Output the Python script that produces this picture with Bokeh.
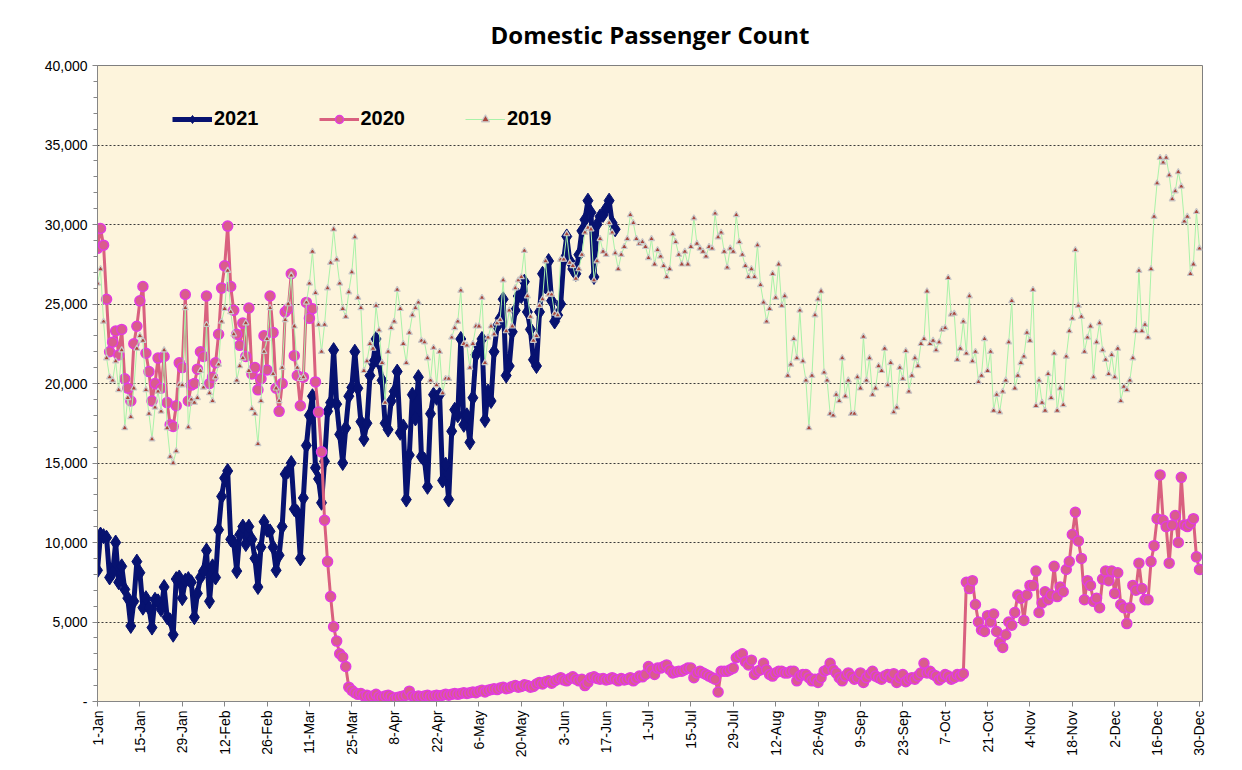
import math
from bokeh.plotting import figure
from bokeh.models import FixedTicker, Range1d, Legend, LegendItem
from bokeh.embed import file_html
from bokeh.resources import INLINE

# ---------------- data (thousands of passengers per day) ----------------
title_text = "Domestic Passenger Count"

tick_days = [0, 14, 28, 42, 56, 70, 84, 98, 112, 126, 140, 154, 168, 182,
             196, 210, 224, 238, 252, 266, 280, 294, 308, 322, 336, 350, 364]
tick_labels = ["1-Jan", "15-Jan", "29-Jan", "12-Feb", "26-Feb", "11-Mar", "25-Mar",
               "8-Apr", "22-Apr", "6-May", "20-May", "3-Jun", "17-Jun", "1-Jul",
               "15-Jul", "29-Jul", "12-Aug", "26-Aug", "9-Sep", "23-Sep", "7-Oct",
               "21-Oct", "4-Nov", "18-Nov", "2-Dec", "16-Dec", "30-Dec"]

y_ticks = [0, 5000, 10000, 15000, 20000, 25000, 30000, 35000, 40000]
y_labels = ["-", "5,000", "10,000", "15,000", "20,000", "25,000", "30,000", "35,000", "40,000"]

pax_2021_k = [
    8.25, 10.5, 10.4, 10.3, 7.8, 8.1, 10.0, 7.5, 8.5, 7.05,
    6.5, 4.75, 6.3, 8.8, 8.1, 5.9, 6.5, 5.9, 4.65, 6.4,
    6.3, 5.8, 7.2, 5.3, 5.1, 4.2, 7.7, 7.8, 6.5, 7.6,
    7.7, 7.5, 5.3, 6.8, 7.8, 8.2, 9.5, 6.3, 8.5, 7.8,
    10.8, 12.9, 14.05, 14.5, 10.2, 10.0, 8.2, 10.5, 11.0, 9.9,
    11.0, 10.2, 9.0, 7.2, 9.7, 11.3, 10.8, 10.7, 9.7, 8.25,
    9.2, 11.0, 14.3, 14.5, 15.0, 12.1, 11.9, 9.0, 12.8, 16.1,
    18.0, 19.2, 14.7, 14.0, 12.5, 15.1, 18.25, 18.8, 22.1, 18.7,
    16.8, 15.0, 17.2, 19.2, 19.75, 22.0, 19.7, 17.6, 16.5, 17.5,
    20.5, 21.3, 22.8, 21.3, 20.2, 17.5, 17.1, 18.9, 19.5, 20.75,
    16.9, 17.3, 12.7, 15.5, 19.3, 17.8, 20.4, 15.4, 15.2, 13.5,
    18.1, 19.3, 19.1, 19.3, 13.9, 14.9, 12.7, 17.0, 18.35, 18.0,
    22.8, 17.4, 18.0, 16.3, 19.1, 21.8, 22.3, 22.8, 17.7, 19.5,
    18.9, 22.0, 23.6, 24.1, 25.3, 20.5, 21.1, 23.25, 24.6, 25.5,
    25.5, 26.4, 24.5, 23.4, 21.5, 21.1, 24.5, 26.9, 26.1, 27.7,
    25.2, 23.9, 24.3, 25.0, 27.8, 29.25, 27.7, 27.2, 26.9, 28.1,
    29.6, 30.3, 31.5, 30.75, 26.7, 30.0, 30.5, 30.6, 31.0, 31.5,
    30.1, 29.7,
]

pax_2020_k = [
    28.5, 29.75, 28.7, 25.3, 22.0, 22.6, 23.3, 21.8, 23.4, 20.3,
    19.7, 18.9, 22.5, 23.6, 25.2, 26.1, 21.9, 20.75, 18.9, 20.0,
    21.6, 19.7, 21.7, 18.8, 17.4, 17.3, 18.6, 21.3, 21.0, 25.6,
    18.9, 19.9, 20.0, 20.9, 22.0, 21.7, 25.5, 20.0, 20.4, 21.3,
    23.1, 26.0, 27.4, 29.9, 26.1, 24.6, 23.1, 22.4, 23.8, 21.7,
    24.75, 20.6, 21.0, 19.6, 20.3, 23.0, 20.85, 25.5, 23.2, 19.7,
    18.25, 20.0, 24.5, 24.7, 26.9, 21.75, 20.5, 18.6, 20.4, 25.1,
    24.1, 24.7, 20.1, 18.2, 15.7, 11.4, 8.8, 6.6, 4.7, 3.8,
    3.0, 2.8, 2.2, 0.9,
    0.70, 0.55, 0.45, 0.50, 0.35, 0.40, 0.30, 0.35, 0.45, 0.30,
    0.25, 0.35, 0.40, 0.30, 0.15, 0.25, 0.30, 0.35, 0.40, 0.65,
    0.35, 0.30, 0.35, 0.30, 0.35, 0.40, 0.30, 0.35, 0.40, 0.35,
    0.40, 0.45, 0.40, 0.45, 0.50, 0.45, 0.50, 0.55, 0.50,
    0.55, 0.60, 0.55, 0.65, 0.70, 0.60, 0.70, 0.75, 0.80, 0.75,
    0.85, 0.90, 0.80, 0.85, 0.95, 1.00, 0.90, 0.95, 1.05, 1.00,
    0.90, 0.95, 1.10, 1.20, 1.10, 1.25, 1.30, 1.15, 1.30, 1.40,
    1.50, 1.35, 1.30, 1.45, 1.55, 1.40, 1.30, 1.40, 1.00, 1.20,
    1.50, 1.55, 1.45, 1.40, 1.45, 1.35, 1.40, 1.50, 1.40, 1.30,
    1.45, 1.35, 1.40, 1.50, 1.30, 1.45, 1.60, 1.55, 1.70, 2.20,
    2.00, 1.70, 2.10,
    2.1, 2.2, 2.3, 2.0, 1.8, 1.85, 1.9, 1.9, 2.0, 2.1,
    2.1, 1.5, 1.8, 1.9, 1.8, 1.7, 1.6, 1.5, 1.4, 0.6,
    1.9, 1.9, 1.9, 2.0, 2.1, 2.75, 2.9, 3.0, 2.5, 2.3,
    2.6, 1.7, 1.9, 2.0, 2.4, 2.0, 1.7, 1.6, 1.8, 1.9,
    1.9, 1.8, 1.8, 1.9, 1.9, 1.3, 1.6, 1.7, 1.7, 1.5,
    1.3, 1.4, 1.2, 1.5, 1.9, 2.0, 2.4, 2.0, 1.8, 1.5,
    1.3, 1.6, 1.8, 1.6, 1.4,
    1.5, 1.8, 1.2, 1.5, 1.7, 1.9, 1.6, 1.5, 1.4, 1.6,
    1.7, 1.5, 1.75, 1.2, 1.5, 1.7, 1.25, 1.4, 1.5, 1.4,
    1.6, 1.8, 2.4, 1.8, 1.9, 1.7, 1.6, 1.35, 1.5, 1.7,
    1.6, 1.4, 1.5, 1.7, 1.6, 1.75,
    7.5, 7.1, 7.6, 6.1, 5.0, 4.5, 4.4, 5.4, 5.0, 5.5,
    4.4, 3.7, 3.4, 4.2, 5.0, 4.8, 5.6, 6.7, 6.5, 5.1,
    6.7, 7.3, 7.3, 8.2, 5.6, 6.2, 6.9, 6.4, 6.7, 8.5,
    6.6, 7.2, 6.9, 8.3, 8.8, 10.5, 11.9, 10.1, 9.0, 6.4,
    7.6, 7.3, 6.3, 6.5, 5.9, 7.7, 8.2, 7.6, 8.2, 6.8,
    8.1, 6.1, 5.9, 4.9, 5.9, 7.3, 7.0, 8.7, 7.1, 6.4,
    6.4, 8.8, 9.8, 11.5, 14.25, 11.4, 11.0, 8.7, 11.1, 11.7,
    10.0, 14.1, 11.1, 11.0, 11.2, 11.5, 9.1, 8.3,
]

pax_2019_k = [
    26.3, 27.2, 23.9, 21.6, 20.4, 20.2, 21.4, 19.6, 22.1, 17.2,
    19.1, 17.9, 19.7, 22.2, 23.0, 22.7, 19.6, 18.1, 16.5, 18.5,
    19.5, 18.25, 22.1, 17.2, 15.4, 15.0, 15.75, 19.9, 19.9, 24.75,
    17.25, 19.0, 18.8, 19.1, 20.8, 19.75, 23.7, 19.4, 18.9, 20.4,
    21.2, 23.9, 24.7, 27.1, 24.5, 23.1, 20.2, 21.1, 21.6, 23.8,
    20.8, 18.4, 18.1, 16.2, 18.9, 22.0, 22.8, 24.75, 20.6, 19.7,
    18.9, 21.0, 24.0, 25.0, 26.8, 23.6, 21.0, 20.3, 20.4, 25.1,
    26.3, 28.3, 25.7, 23.7, 22.0, 23.7, 26.0, 27.6, 29.7, 27.8,
    26.3, 24.7, 24.2, 25.75, 27.0, 29.2, 25.4, 24.75, 20.8, 21.4,
    22.5, 22.2, 24.9, 23.35, 21.3, 18.8, 22.0, 23.5, 23.9, 25.9,
    24.7, 22.5, 21.3, 23.2, 24.3, 24.75, 25.1, 22.7, 22.6, 21.6,
    20.2, 22.25, 19.9, 22.0, 19.4, 20.3, 20.3, 22.9, 23.5, 23.9,
    25.85, 22.5, 22.4, 21.0, 22.5, 23.6, 23.6, 25.4, 21.3, 22.9,
    23.6, 23.1, 23.8, 24.0, 26.5, 23.3, 24.6, 23.6, 26.0, 26.5,
    26.7, 28.35, 25.5, 24.2, 22.7, 23.0, 24.9, 25.3, 27.7, 25.6,
    25.6, 24.4, 24.3, 27.8, 27.8, 29.4, 27.6, 27.4, 26.6, 27.2,
    28.1, 29.5, 29.8, 29.7, 26.5, 27.7, 29.1, 28.3, 28.1, 30.1,
    29.5, 28.2, 27.2, 28.1, 28.6, 29.1, 30.6, 30.1, 29.1, 28.8,
    28.9, 28.6, 27.9, 29.1, 27.5, 28.4, 28.0, 27.4, 26.7, 27.2,
    29.4, 28.9, 28.1, 27.5, 28.3, 27.5, 28.6, 30.4, 28.8, 28.5,
    28.3, 28.0, 28.6, 28.5, 30.7, 29.2, 29.5, 28.3, 27.3, 28.5,
    28.3, 30.6, 28.9, 28.1, 27.4, 26.7, 27.2, 26.7, 28.7, 26.2,
    25.1, 23.9, 24.7, 26.9, 25.4, 27.5, 24.9, 25.5, 20.5, 21.2,
    22.8, 21.6, 24.6, 21.4, 20.2, 17.2, 20.5, 24.3, 25.3, 25.8,
    20.7, 20.2, 18.1, 18.0, 19.3, 18.9, 21.6, 19.2, 20.2, 18.1,
    18.1, 20.4, 19.7, 22.95, 20.2, 21.6, 19.3, 19.7, 21.1, 20.8,
    22.2, 19.9, 21.3, 18.2, 18.5, 21.0, 20.3, 22.05, 19.5, 20.5,
    21.6, 21.1, 22.5, 22.8, 25.8, 22.5, 22.7, 22.1, 22.6, 23.4,
    23.5, 26.65, 24.35, 24.4, 21.5, 22.2, 23.9, 21.9, 25.5, 21.4,
    22.0, 20.1, 20.5, 22.8, 20.8, 22.0, 18.3, 19.3, 18.2, 19.5,
    20.2, 22.6, 25.2, 19.7, 20.5, 21.3, 21.7, 23.2, 22.7, 25.9,
    18.6, 20.2, 18.8, 18.3, 20.6, 19.1, 21.9, 18.3, 19.7, 18.65,
    21.7, 23.3, 24.1, 28.4, 24.9, 24.2, 22.0, 22.9, 23.6, 20.4,
    22.6, 23.8, 22.1, 21.5, 20.6, 21.8, 20.4, 22.2, 18.9, 19.8,
    19.6, 20.2, 21.6, 23.3, 27.1, 23.3, 23.7, 22.9, 27.2, 30.5,
    32.6, 34.2, 33.9, 34.2, 33.1, 31.6, 32.1, 33.3, 32.4, 30.2,
    30.5, 26.9, 27.5, 30.8, 28.5,
]

# ---------------- figure ----------------
FONT = "Liberation Sans"

p = figure(width=1226, height=760, output_backend="svg", toolbar_location=None,
           x_range=Range1d(0, 365), y_range=Range1d(0, 40000),
           min_border_left=97, min_border_right=24, min_border_top=65,
           min_border_bottom=55)

p.background_fill_color = "#FDF4DC"
p.border_fill_color = "white"
p.outline_line_color = "#7F7F7F"
p.outline_line_width = 1

p.title.text = title_text
p.title.align = "center"
p.title.text_font = "Open Sans"
p.title.text_font_size = "24px"
p.title.text_font_style = "bold"
p.title.text_color = "black"
p.title.standoff = 30
p.title.offset = -9

# grid
p.xgrid.grid_line_color = None
p.ygrid.grid_line_color = "#3A3A3A"
p.ygrid.grid_line_dash = "2 2"
p.ygrid.grid_line_width = 1

# axes
xa = p.xaxis[0]
xa.ticker = FixedTicker(ticks=tick_days)
xa.major_label_overrides = {d: lab for d, lab in zip(tick_days, tick_labels)}
xa.major_label_orientation = math.pi / 2
xa.major_label_text_font = FONT
xa.major_label_text_font_size = "14px"
xa.major_label_text_color = "black"
xa.major_tick_out = 5
xa.major_tick_in = 0
xa.minor_tick_line_color = None
xa.axis_line_color = "#868686"
xa.major_tick_line_color = "#868686"
xa.major_label_standoff = 4

ya = p.yaxis[0]
ya.ticker = FixedTicker(ticks=y_ticks, minor_ticks=list(range(0, 40001, 1000)))
ya.major_label_overrides = {t: lab for t, lab in zip(y_ticks, y_labels)}
ya.major_label_text_font = FONT
ya.major_label_text_font_size = "14px"
ya.major_label_text_color = "black"
ya.major_tick_out = 5
ya.major_tick_in = 0
ya.minor_tick_out = 4
ya.minor_tick_in = 0
ya.axis_line_color = "#868686"
ya.major_tick_line_color = "#868686"
ya.minor_tick_line_color = "#868686"
ya.major_label_standoff = 5

# series
y21 = [v * 1000 for v in pax_2021_k]
y20 = [v * 1000 for v in pax_2020_k]
y19 = [v * 1000 for v in pax_2019_k]
x21 = list(range(len(y21)))
x20 = list(range(len(y20)))
x19 = list(range(len(y19)))

l21 = p.line(x21, y21, line_color="#071270", line_width=5)
s21 = p.scatter(x21, y21, marker="diamond", size=15, fill_color="#071270",
                line_color="#071270", line_width=1)

l20 = p.line(x20, y20, line_color="#D9607F", line_width=3)
s20 = p.scatter(x20, y20, marker="circle", size=10, fill_color="#DA5C8C",
                line_color="#E23CE0", line_width=1.5)

l19 = p.line(x19, y19, line_color="#A9F2A9", line_width=1)
s19 = p.scatter(x19, y19, marker="triangle", size=6, fill_color="#A8463C",
                line_color="#C9C9C9", line_width=1.2)

legend = Legend(items=[LegendItem(label="2021", renderers=[l21, s21]),
                       LegendItem(label="2020", renderers=[l20, s20]),
                       LegendItem(label="2019", renderers=[l19, s19])],
                orientation="horizontal", location=(75, 571),
                background_fill_alpha=0, border_line_color=None,
                label_text_font=FONT, label_text_font_style="bold",
                label_text_font_size="20px", label_text_color="black",
                glyph_width=40, glyph_height=20,
                label_standoff=2, spacing=60, padding=0, margin=0)
p.add_layout(legend)

open("out.html", "w").write(file_html(p, INLINE))
